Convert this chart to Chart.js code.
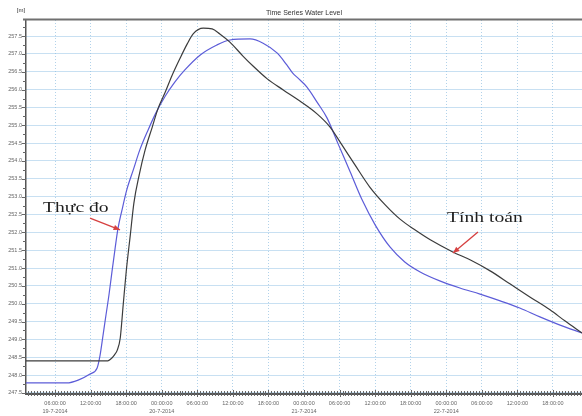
<!DOCTYPE html>
<html>
<head>
<meta charset="utf-8">
<script src="https://cdn.jsdelivr.net/npm/chart.js@4.4.1/dist/chart.umd.min.js"></script>
<style>
  html, body { margin: 0; padding: 0; background: #fff; }
</style>
</head>
<body>
<canvas id="myChart" width="582" height="416"></canvas>
<script>
  //data block: hours counted from 00:00 19-7-2014, water level [m]
  const hoursTinhToan = [1.1, 14.9, 15.4, 16.0, 16.5, 17.0, 17.5, 18.0, 18.7, 19.3, 20.2, 21.2, 22.4, 23.4,
    24.6, 25.7, 27.1, 28.3, 29.3, 31.0, 32.5, 33.8, 35.5, 37.7, 39.4, 41.8, 44.5, 47.3, 50.2, 52.4,
    54.4, 56.6, 59.1, 61.7, 64.2, 66.7, 69.3, 73.1, 76.0, 79.4, 82.8, 86.1, 89.5, 92.0, 94.9];
  const levelTinhToan = [248.40, 248.40, 248.45, 248.56, 248.70, 249.04, 249.97, 250.89, 251.93, 252.82,
    253.61, 254.31, 254.95, 255.48, 255.93, 256.38, 256.88, 257.28, 257.56, 257.72, 257.70, 257.56,
    257.33, 256.94, 256.66, 256.30, 255.99, 255.68, 255.32, 254.95, 254.45, 253.89, 253.27, 252.77,
    252.37, 252.07, 251.79, 251.45, 251.23, 250.92, 250.55, 250.19, 249.83, 249.52, 249.18];

  const hoursThucDo = [1.1, 8.0, 9.9, 11.9, 13.1, 13.6, 14.1, 14.6, 15.1, 15.6, 16.1, 16.6, 17.3, 18.1,
    19.2, 20.3, 21.7, 23.0, 24.6, 26.2, 27.9, 30.5, 33.3, 35.5, 38.9, 41.1, 43.5, 45.1, 46.1, 47.0,
    48.5, 50.2, 51.9, 53.7, 55.8, 57.8, 60.0, 62.5, 65.0, 67.6, 70.9, 74.3, 77.7, 81.1, 84.4, 87.8,
    91.2, 94.9];
  const levelThucDo = [247.78, 247.78, 247.86, 248.03, 248.20, 248.56, 249.12, 249.69, 250.25, 250.89,
    251.51, 252.09, 252.63, 253.19, 253.75, 254.31, 254.87, 255.34, 255.82, 256.21, 256.55, 256.97,
    257.25, 257.39, 257.42, 257.30, 257.02, 256.69, 256.46, 256.32, 256.07, 255.65, 255.20, 254.50,
    253.69, 252.91, 252.21, 251.59, 251.17, 250.89, 250.64, 250.44, 250.27, 250.08, 249.88, 249.63,
    249.40, 249.18];

  const xTicks = [6, 12, 18, 24, 30, 36, 42, 48, 54, 60, 66, 72, 78, 84, 90];
  const yTicks = [247.5, 248.0, 248.5, 249.0, 249.5, 250.0, 250.5, 251.0, 251.5, 252.0, 252.5,
    253.0, 253.5, 254.0, 254.5, 255.0, 255.5, 256.0, 256.5, 257.0, 257.5];
  const dates = ['19-7-2014', '20-7-2014', '21-7-2014', '22-7-2014'];

  const pad2 = n => (n < 10 ? '0' : '') + n;

  //frame block: title, unit, top rule, small ticks
  const frame = {
    id: 'frame',
    afterDraw(chart) {
      const {ctx, chartArea: {top, bottom, left, right}, scales: {x, y}} = chart;
      ctx.save();
      ctx.strokeStyle = '#707070';
      ctx.lineWidth = 2;
      ctx.beginPath();
      ctx.moveTo(left - 3, top - 0.5);
      ctx.lineTo(right, top - 0.5);
      ctx.stroke();

      ctx.strokeStyle = '#666';
      ctx.lineWidth = 1;
      ctx.beginPath();
      for (let h = Math.ceil(x.min * 2) / 2; h <= x.max; h += 0.5) {
        const px = Math.round(x.getPixelForValue(h)) + 0.5;
        const major = h % 6 === 0;
        ctx.moveTo(px, bottom - (major ? 4 : 3));
        ctx.lineTo(px, bottom + (major ? 3 : 2));
      }
      for (let v = 247.5; v <= y.max; v += 0.25) {
        const py = Math.round(y.getPixelForValue(v)) + 0.5;
        const major = Math.abs(v * 2 - Math.round(v * 2)) < 1e-6;
        ctx.moveTo(left - (major ? 4 : 3), py);
        ctx.lineTo(left, py);
      }
      ctx.stroke();

      ctx.fillStyle = '#333';
      ctx.textAlign = 'center';
      ctx.textBaseline = 'middle';
      ctx.font = '7px Arial';
      ctx.fillText('Time Series Water Level', (left + right) / 2, 13);
      ctx.font = '6px Arial';
      ctx.fillText('[m]', 21, 10);
      ctx.restore();
    }
  };

  //notes block: the two labels with red arrows
  const notes = {
    id: 'notes',
    afterDatasetsDraw(chart) {
      const {ctx, scales: {x, y}} = chart;
      const items = [
        {text: 'Thực đo', at: [3.97, 252.57], from: [11.9, 252.40], to: [16.96, 252.07]},
        {text: 'Tính toán', at: [72.13, 252.29], from: [77.35, 252.01], to: [73.14, 251.42]}
      ];
      items.forEach(it => {
        const tx = x.getPixelForValue(it.at[0]), ty = y.getPixelForValue(it.at[1]);
        ctx.save();
        ctx.translate(tx, ty);
        ctx.scale(1.4, 1);
        ctx.font = '14px "Liberation Serif"';
        ctx.fillStyle = '#1e1e1e';
        ctx.textBaseline = 'alphabetic';
        ctx.fillText(it.text, 0, 0);
        ctx.restore();

        const x1 = x.getPixelForValue(it.from[0]), y1 = y.getPixelForValue(it.from[1]);
        const x2 = x.getPixelForValue(it.to[0]), y2 = y.getPixelForValue(it.to[1]);
        const ang = Math.atan2(y2 - y1, x2 - x1);
        ctx.save();
        ctx.strokeStyle = 'rgb(214, 64, 64)';
        ctx.fillStyle = 'rgb(214, 64, 64)';
        ctx.lineWidth = 1.3;
        ctx.beginPath();
        ctx.moveTo(x1, y1);
        ctx.lineTo(x2, y2);
        ctx.stroke();
        ctx.beginPath();
        ctx.moveTo(x2, y2);
        ctx.lineTo(x2 - 7 * Math.cos(ang - 0.4), y2 - 7 * Math.sin(ang - 0.4));
        ctx.lineTo(x2 - 7 * Math.cos(ang + 0.4), y2 - 7 * Math.sin(ang + 0.4));
        ctx.closePath();
        ctx.fill();
        ctx.restore();
      });
    }
  };

  const data = {
    datasets: [{
      label: 'Tính toán',
      data: hoursTinhToan.map((h, i) => ({x: h, y: levelTinhToan[i]})),
      borderColor: 'rgb(60, 60, 60)',
      borderWidth: 1.2,
      pointRadius: 0,
      cubicInterpolationMode: 'monotone',
      fill: false
    }, {
      label: 'Thực đo',
      data: hoursThucDo.map((h, i) => ({x: h, y: levelThucDo[i]})),
      borderColor: 'rgb(92, 92, 216)',
      borderWidth: 1.2,
      pointRadius: 0,
      cubicInterpolationMode: 'monotone',
      fill: false
    }]
  };

  const options = {
    responsive: false,
    devicePixelRatio: 1,
    animation: false,
    layout: {padding: {top: 20, left: 0, right: 0, bottom: 0}},
    plugins: {
      legend: {display: false},
      tooltip: {enabled: false},
      title: {display: false}
    },
    scales: {
      x: {
        type: 'linear',
        min: 1.1,
        max: 94.9,
        afterBuildTicks(scale) { scale.ticks = xTicks.map(v => ({value: v})); },
        afterFit(scale) { scale.height = 22; },
        grid: {color: 'rgb(178, 210, 234)', lineWidth: 1, drawTicks: false},
        border: {display: true, color: '#555', width: 2, dash: [1, 2]},
        ticks: {
          autoSkip: false,
          maxRotation: 0,
          padding: 5,
          color: '#666',
          font: {size: 5.5, family: 'Arial', lineHeight: 1.5},
          callback(v) {
            const hh = v % 24;
            const label = pad2(hh) + ':00:00';
            if (hh === 0 || v === xTicks[0]) return [label, dates[Math.floor(v / 24)]];
            return label;
          }
        }
      },
      y: {
        min: 247.47,
        max: 257.95,
        afterBuildTicks(scale) { scale.ticks = yTicks.map(v => ({value: v})); },
        afterFit(scale) { scale.width = 26; },
        grid: {color: 'rgb(145, 192, 228)', lineWidth: 1, drawTicks: false},
        border: {display: true, color: '#555', width: 1.5, dash: [1, 1]},
        ticks: {
          padding: 4,
          color: '#666',
          font: {size: 5.5, family: 'Arial'},
          callback: v => v.toFixed(1)
        }
      }
    }
  };

  const config = {
    type: 'line',
    data,
    options,
    plugins: [frame, notes]
  };

  const myChart = new Chart(document.getElementById('myChart'), config);
</script>
</body>
</html>
